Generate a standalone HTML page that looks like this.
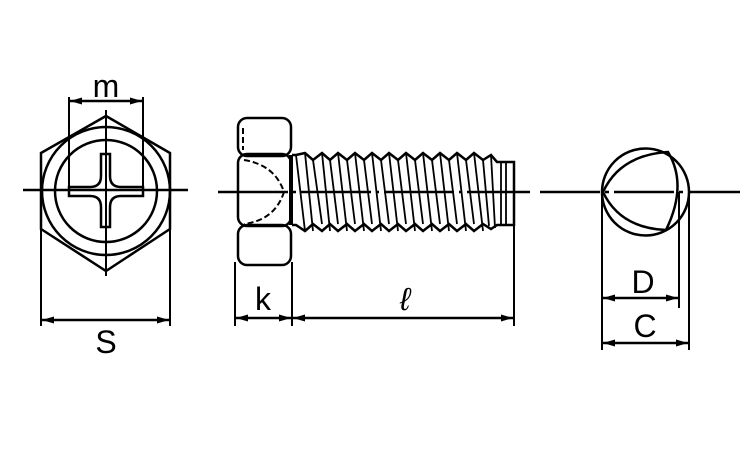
<!DOCTYPE html>
<html><head><style>body{margin:0;background:#fff}svg{display:block}text{font-family:"Liberation Sans",sans-serif;font-size:32px;fill:#000}</style></head><body>
<svg width="750" height="450" viewBox="0 0 750 450" fill="none" stroke="#000" stroke-width="2.5">
<defs><marker id="a" viewBox="0 0 12 7" refX="12" refY="3.5" markerWidth="12" markerHeight="7" orient="auto-start-reverse" markerUnits="userSpaceOnUse"><path d="M0,0L12,3.5L0,7z" fill="#000" stroke="none"/></marker></defs>
<!-- left view -->
<path d="M106,116L170,153L170,229L106,271L41,229L41,153Z"/>
<circle cx="106" cy="191" r="64"/>
<circle cx="106" cy="191" r="51"/>
<path d="M101,154H110V176Q110,187 121,187H143V196H121Q110,196 110,207V227H101V207Q101,196 90,196H69V187H90Q101,187 101,176Z"/>
<line x1="23" y1="190" x2="188" y2="190"/>
<line x1="106" y1="110" x2="106" y2="276" stroke-width="2"/>
<line x1="69" y1="97" x2="69" y2="187" stroke-width="2"/><line x1="143" y1="97" x2="143" y2="187" stroke-width="2"/>
<line x1="70" y1="101" x2="142" y2="101" marker-start="url(#a)" marker-end="url(#a)"/>
<text x="106" y="97" text-anchor="middle" stroke="none">m</text>
<line x1="41" y1="229" x2="41" y2="326" stroke-width="2"/><line x1="170" y1="229" x2="170" y2="326" stroke-width="2"/>
<line x1="42" y1="320" x2="169" y2="320" marker-start="url(#a)" marker-end="url(#a)"/>
<text x="106" y="353" text-anchor="middle" stroke="none">S</text>
<!-- middle view -->
<rect x="238" y="118" width="53" height="38" rx="9"/>
<rect x="238" y="154" width="53" height="72" rx="9"/>
<rect x="238" y="225" width="53" height="40" rx="9"/>
<path d="M243,128V150M244,160Q275,165 284,192Q275,220 244,224" stroke-dasharray="6,3" stroke-width="2"/>
<line x1="291" y1="155" x2="291" y2="225" stroke-width="4"/>
<path d="M292,155H296L305,153L313,160L322,153L330,160L338,153L347,160L355,153L364,160L372,153L381,160L389,153L398,160L406,153L415,160L423,153L432,160L440,153L449,160L457,153L466,160L474,153L483,160L491,155L497,162H514V225H497L491,229L483,224L474,231L466,224L457,231L449,224L440,231L432,224L423,231L415,224L406,231L398,224L389,231L381,224L372,231L364,224L355,231L347,224L338,231L330,224L322,231L313,224L305,231L296,225H292"/>
<g stroke-width="1.8">
<path d="M305,153L313,231M322,153L330,231M338,153L347,231M355,153L364,231M372,153L381,231M389,153L398,231M406,153L415,231M423,153L432,231M440,153L449,231M457,153L466,231M474,153L483,231M491,155L495,228M296,155L305,231M313,160L322,224M330,160L338,224M347,160L355,224M364,160L372,224M381,160L389,224M398,160L406,224M415,160L423,224M432,160L440,224M449,160L457,224M466,160L474,224M483,160L489,226M501,162V225M506,162V225"/>
</g>
<line x1="218" y1="192" x2="530" y2="192" stroke-dasharray="70,5,3,5"/>
<line x1="235" y1="262" x2="235" y2="326" stroke-width="2"/><line x1="292" y1="262" x2="292" y2="326" stroke-width="2"/><line x1="514" y1="225" x2="514" y2="326" stroke-width="2"/>
<line x1="236" y1="318" x2="291" y2="318" marker-start="url(#a)" marker-end="url(#a)"/>
<line x1="293" y1="318" x2="513" y2="318" marker-start="url(#a)" marker-end="url(#a)"/>
<text x="263" y="310" text-anchor="middle" stroke="none">k</text>
<text x="405" y="310" text-anchor="middle" stroke="none" font-style="italic">ℓ</text>
<!-- right view -->
<circle cx="645.5" cy="192" r="43.5"/>
<path d="M603,192Q620,155 668,152Q688,185 666,230Q620,228 603,192Z"/>
<line x1="540" y1="192" x2="740" y2="192" stroke-dasharray="60,5,4,5"/>
<line x1="679" y1="192" x2="679" y2="308" stroke-width="2"/>
<line x1="602" y1="192" x2="602" y2="350" stroke-width="2"/><line x1="689" y1="192" x2="689" y2="350" stroke-width="2"/>
<line x1="603" y1="298" x2="678" y2="298" marker-start="url(#a)" marker-end="url(#a)"/>
<line x1="603" y1="343" x2="688" y2="343" marker-start="url(#a)" marker-end="url(#a)"/>
<text x="643" y="293" text-anchor="middle" stroke="none">D</text>
<text x="645" y="337" text-anchor="middle" stroke="none">C</text>
</svg>
</body></html>
